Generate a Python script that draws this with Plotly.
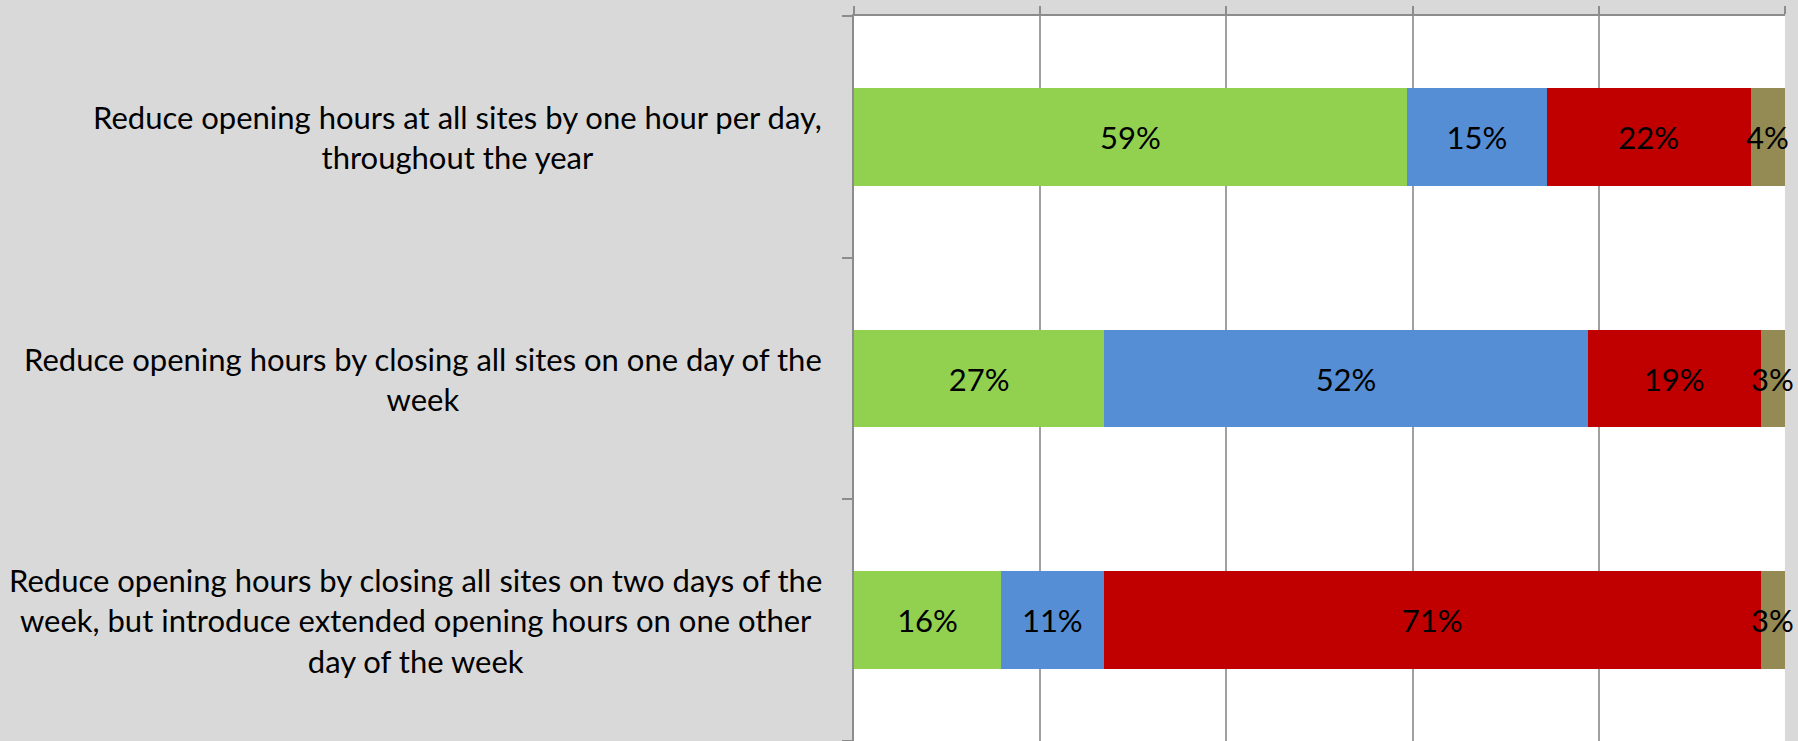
import plotly.graph_objects as go

categories = [
    "Reduce opening hours at all sites by one hour per day,<br>throughout the year",
    "Reduce opening hours by closing all sites on one day of the<br>week",
    "Reduce opening hours by closing all sites on two days of the<br>week, but introduce extended opening hours on one other<br>day of the week",
]
series_names = ["Option A", "Option B", "Option C", "Option D"]
green_vals = [59.4, 26.9, 15.8]
blue_vals = [15.0, 51.9, 11.0]
red_vals = [21.9, 18.6, 70.6]
khaki_vals = [3.7, 2.6, 2.6]
colors = ["#92d050", "#558ed5", "#c00000", "#948a54"]

FONT = "Lato, sans-serif"
ypos = list(range(len(categories)))
all_series = [green_vals, blue_vals, red_vals, khaki_vals]

fig = go.Figure()
for idx, (name, vals, col) in enumerate(zip(series_names, all_series, colors)):
    last = idx == len(all_series) - 1
    fig.add_trace(go.Bar(
        y=ypos, x=vals, name=name, orientation="h",
        marker=dict(color=col, line=dict(width=0)),
        width=0.405,
        text=None if last else [f"{v:.0f}%" for v in vals],
        texttemplate=None if last else "%{text}",
        textposition="none" if last else "inside", insidetextanchor="middle",
        constraintext="none", textangle=0, cliponaxis=False,
        textfont=dict(family=FONT, size=31, color="#000000"),
        hoverinfo="skip",
    ))

# labels for the thin last segment (placed at the segment centre, computed from the data)
for i in ypos:
    start = sum(s[i] for s in all_series[:-1])
    v = khaki_vals[i]
    fig.add_annotation(
        x=start + v / 2, xref="x", y=i, yref="y", text=f"{v:.0f}%", showarrow=False,
        xanchor="center", yanchor="middle",
        font=dict(family=FONT, size=31, color="#000000"),
    )

for i, cat in enumerate(categories):
    fig.add_annotation(
        x=0, xref="paper", y=i, yref="y", text=cat, showarrow=False,
        xanchor="right", yanchor="middle", align="center", xshift=-30,
        font=dict(family=FONT, size=31, color="#000000"),
    )

fig.update_layout(
    width=1798, height=741,
    barmode="stack", showlegend=False,
    paper_bgcolor="#d9d9d9", plot_bgcolor="#ffffff",
    margin=dict(l=854, r=13, t=16, b=0),
)
fig.update_xaxes(
    range=[0, 100], side="top", tickvals=[0, 20, 40, 60, 80, 100], showticklabels=False,
    ticks="outside", ticklen=8, tickcolor="#8c8c8c", tickwidth=1.5,
    showgrid=True, gridcolor="#a0a0a0", gridwidth=1.5,
    showline=True, linecolor="#8c8c8c", linewidth=2, zeroline=False,
)
fig.update_yaxes(
    range=[2.5, -0.5], tickvals=[-0.5, 0.5, 1.5, 2.5], showticklabels=False,
    ticks="outside", ticklen=10, tickcolor="#8c8c8c", tickwidth=2,
    showgrid=False, showline=True, linecolor="#8c8c8c", linewidth=2, zeroline=False,
)

fig.write_html(
    "out.html",
    config={"displayModeBar": False},
    post_script="document.body.style.margin='0';document.body.style.background='#d9d9d9';",
)
